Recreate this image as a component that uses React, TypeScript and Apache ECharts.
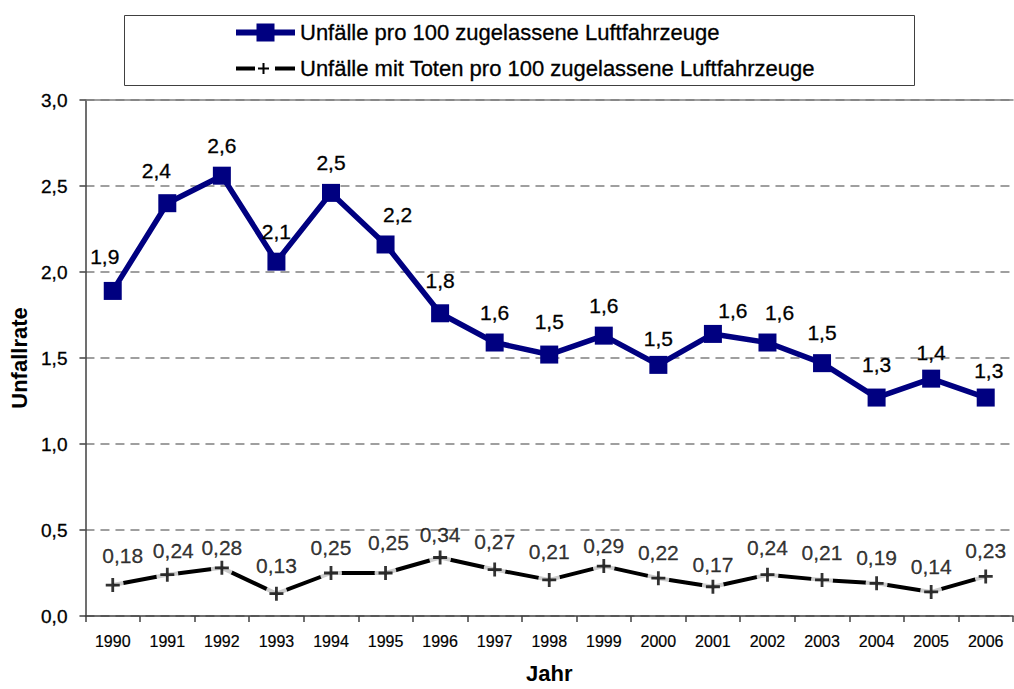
import React, { useEffect, useRef } from "react";
import * as echarts from "echarts";

const years = ["1990", "1991", "1992", "1993", "1994", "1995", "1996", "1997", "1998", "1999", "2000", "2001", "2002", "2003", "2004", "2005", "2006"];
const unfaelle = [1.89, 2.4, 2.56, 2.06, 2.46, 2.16, 1.76, 1.59, 1.52, 1.63, 1.46, 1.64, 1.59, 1.47, 1.27, 1.38, 1.27];
const unfaelleTote = [0.18, 0.24, 0.28, 0.13, 0.25, 0.25, 0.34, 0.27, 0.21, 0.29, 0.22, 0.17, 0.24, 0.21, 0.19, 0.14, 0.23];
const seriesNames = [
  "Unfälle pro 100 zugelassene Luftfahrzeuge",
  "Unfälle mit Toten pro 100 zugelassene Luftfahrzeuge",
];
const yAxisTitle = "Unfallrate";
const xAxisTitle = "Jahr";

// label nudges (presentation only), keyed by year: [dx, dy]
const blueNudge: Record<string, [number, number]> = {
  "1990": [-8, -4], "1991": [-11, -2], "1995": [12, 1], "1996": [0, -2], "1998": [0, -3],
  "2000": [0, 4], "2001": [20, 7], "2002": [12, 0], "2004": [0, -3], "2005": [0, 4], "2006": [3, 3],
};
const blackNudge: Record<string, [number, number]> = {
  "1990": [10, -4], "1991": [6, 1], "1992": [0, 5], "1993": [0, -3], "1995": [3, -5],
  "1996": [0, 2], "1997": [0, -3], "1998": [0, -3], "1999": [0, 5], "2001": [0, 3],
  "2002": [0, -2], "2003": [0, -2],
};

const FONT = "'Liberation Sans', Arial, sans-serif";
const NAVY = "#000080";
const comma = (v: number, d: number) => v.toFixed(d).replace(".", ",");

const plusPath = "path://M5.6,0H8.4V5.6H14V8.4H8.4V14H5.6V8.4H0V5.6H5.6Z";
const blueIcon = "path://M0,6H59V12H0Z M20.5,0H38.5V18H20.5Z";
const blackIcon =
  "path://M0,0h0.01v0.01h-0.01Z M59,18h-0.01v-0.01h0.01Z M0,7H19V11H0Z M39,7H59V11H39Z M26.5,3.5H28.5V14.5H26.5Z M22,8H33V10H22Z";

export default function App() {
  const ref = useRef<HTMLDivElement>(null);
  useEffect(() => {
    if (!ref.current) return;
    const chart = echarts.init(ref.current, undefined, { renderer: "svg" });
    const blueData = unfaelle.map((v, i) => {
      const n = blueNudge[years[i]];
      return n ? { value: v, label: { offset: n } } : { value: v };
    });
    const blackData = unfaelleTote.map((v, i) => {
      const n = blackNudge[years[i]];
      return n ? { value: v, label: { offset: n } } : { value: v };
    });
    const darkText = { color: "#000", textBorderColor: "#000", textBorderWidth: 0.3 };
    chart.setOption({
      animation: false,
      backgroundColor: "#ffffff",
      textStyle: { fontFamily: FONT },
      grid: { left: 80, right: 1, top: 100, bottom: 66, containLabel: false },
      legend: {
        left: 231,
        top: 16,
        orient: "vertical",
        itemWidth: 59,
        itemHeight: 18,
        itemGap: 13,
        selectedMode: false,
        textStyle: { fontFamily: FONT, fontSize: 22, lineHeight: 23, ...darkText },
        data: [
          { name: seriesNames[0], icon: blueIcon },
          { name: seriesNames[1], icon: blackIcon },
        ],
      },
      graphic: [
        {
          type: "rect",
          left: 122,
          top: 13,
          shape: { x: 0.5, y: 0.5, width: 790, height: 70 },
          style: { fill: "none", stroke: "#404040", lineWidth: 1 },
          silent: true,
        },
      ],
      xAxis: [
        {
          type: "category",
          data: years,
          boundaryGap: true,
          name: xAxisTitle,
          nameLocation: "middle",
          nameGap: 46,
          nameTextStyle: { fontFamily: FONT, fontSize: 22, fontWeight: "bold", color: "#000" },
          axisLine: { show: true, onZero: false, lineStyle: { color: "#404040", width: 1.5 } },
          axisTick: { show: true, alignWithLabel: false, interval: 0, length: 6, lineStyle: { color: "#404040", width: 1.5 } },
          axisLabel: { interval: 0, fontSize: 16, margin: 17, fontFamily: FONT, ...darkText, textBorderWidth: 0.2 },
          splitLine: { show: false },
        },
        {
          type: "category",
          data: years,
          position: "top",
          axisLine: { show: true, onZero: false, lineStyle: { color: "#808080", width: 1.5 } },
          axisTick: { show: false },
          axisLabel: { show: false },
          splitLine: { show: false },
        },
      ],
      yAxis: {
        type: "value",
        min: 0,
        max: 3,
        interval: 0.5,
        name: yAxisTitle,
        nameLocation: "middle",
        nameGap: 50,
        nameTextStyle: { fontFamily: FONT, fontSize: 22, fontWeight: "bold", color: "#000" },
        axisLine: { show: true, lineStyle: { color: "#404040", width: 1.5 } },
        axisTick: { show: true, length: 6, lineStyle: { color: "#404040", width: 1.5 } },
        axisLabel: {
          fontSize: 19,
          margin: 18,
          fontFamily: FONT,
          ...darkText,
          formatter: (v: number) => comma(v, 1),
        },
        splitLine: { show: true, lineStyle: { color: "#808080", type: [9, 6], width: 1.5 } },
      },
      series: [
        {
          name: seriesNames[0],
          type: "line",
          data: blueData,
          z: 5,
          color: NAVY,
          symbol: "rect",
          symbolSize: 18,
          itemStyle: { color: NAVY },
          lineStyle: { color: NAVY, width: 5.5 },
          label: {
            show: true,
            position: "top",
            distance: 11,
            fontSize: 21,
            fontFamily: FONT,
            ...darkText,
            formatter: (p: any) => comma(p.value as number, 1),
          },
        },
        {
          name: seriesNames[1],
          type: "line",
          data: unfaelleTote,
          z: 2,
          color: "#000",
          symbol: "none",
          itemStyle: { color: "#000" },
          lineStyle: { color: "#000", width: 4 },
        },
        {
          name: "gap",
          type: "scatter",
          data: unfaelleTote,
          z: 3,
          silent: true,
          symbol: "circle",
          symbolSize: 22,
          itemStyle: { color: "#ffffff" },
        },
        {
          name: "marker",
          type: "scatter",
          data: blackData,
          z: 4,
          silent: true,
          symbol: plusPath,
          symbolSize: 14,
          itemStyle: { color: "#000" },
          label: {
            show: true,
            position: "top",
            distance: 8,
            fontSize: 21,
            fontFamily: FONT,
            ...darkText,
            formatter: (p: any) => comma(p.value as number, 2),
          },
        },
      ],
    });
    return () => chart.dispose();
  }, []);
  return (
    <div
      ref={ref}
      style={{ position: "fixed", left: 0, top: 0, width: 1014, height: 689, background: "#fff" }}
    />
  );
}
